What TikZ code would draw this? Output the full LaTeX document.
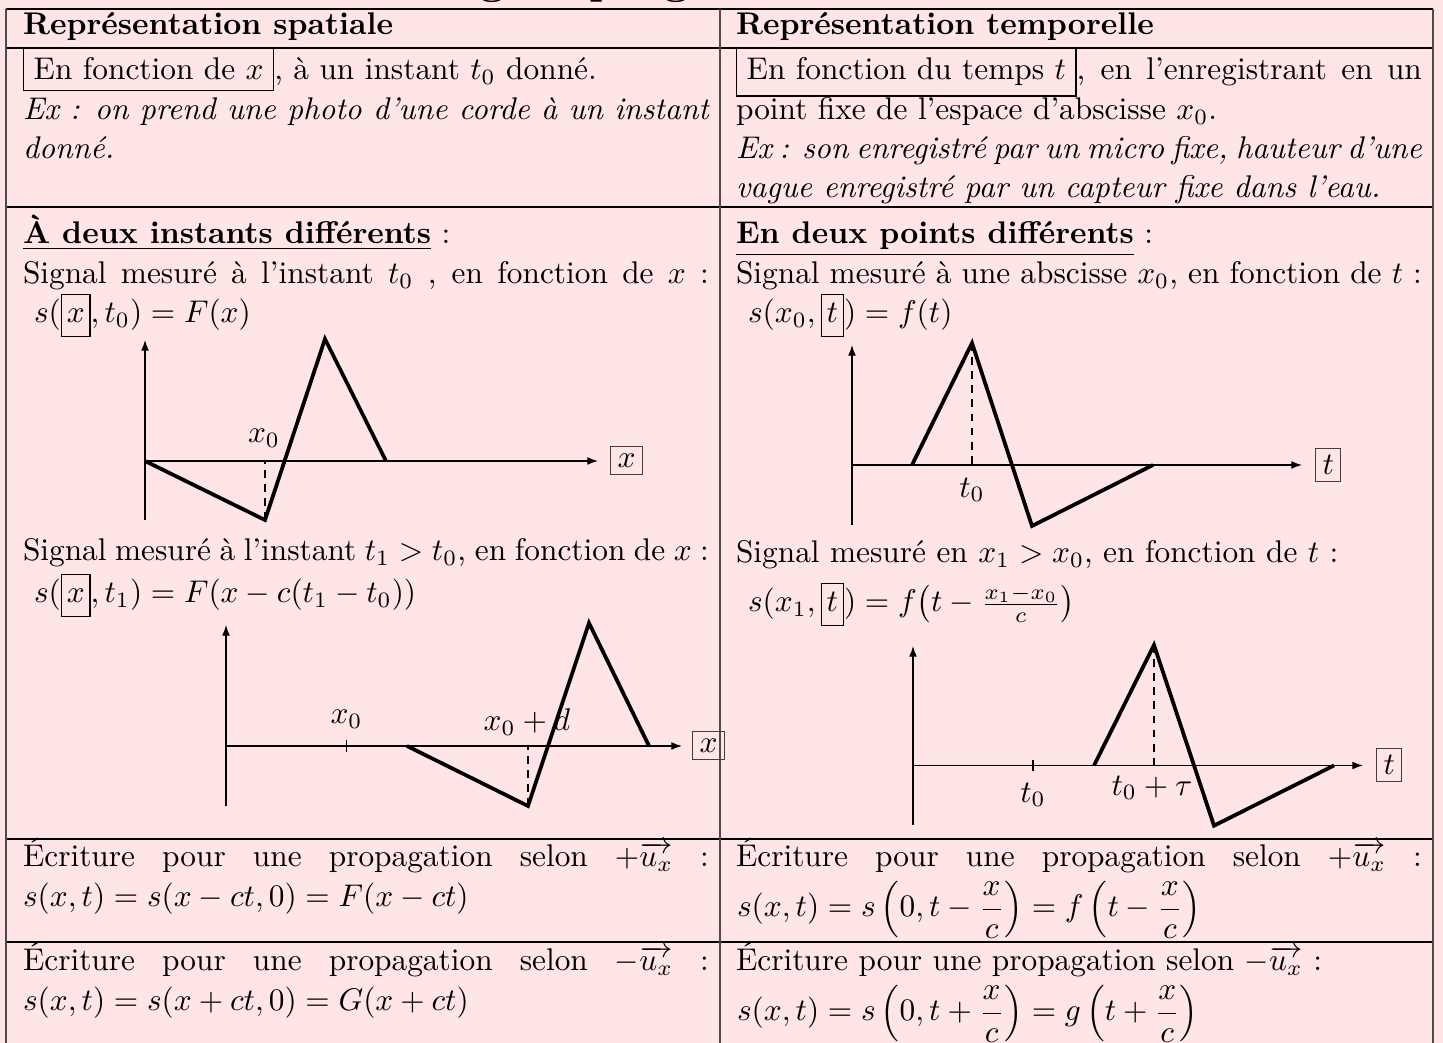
\documentclass[tikz,border=0pt]{standalone}
\usepackage{fontspec}
\usepackage{amsmath}
\usetikzlibrary{arrows.meta}
\definecolor{bgpink}{RGB}{255,229,230}
\newcommand{\bxm}[1]{{\fboxsep=1.5pt\fbox{$\vphantom{(}#1$}}}
\newlength{\colw}\setlength{\colw}{218.8pt}
\begin{document}
\begin{tikzpicture}[x=0.319pt,y=-0.319pt,
  tl/.style={anchor=base west,inner sep=0pt,outer sep=0pt,font=\fontsize{10}{12}\selectfont},
  rulehz/.style={line width=0.5pt,draw=black},
  rulevt/.style={line width=0.4pt,draw=black!70},
  axis/.style={line width=0.4pt,-{Latex[length=3.4pt,width=2.5pt]}},
  sig/.style={line width=1.2pt,line join=miter,line cap=butt},
  guide/.style={line width=0.4pt,dash pattern=on 2.5pt off 2pt},
  axlab/.style={draw=black!75,line width=0.4pt,inner sep=2.2pt,font=\fontsize{10}{12}\selectfont},
  tickmark/.style={line width=0.4pt},
  plab/.style={inner sep=0pt,font=\fontsize{10}{12}\selectfont}]
\useasboundingbox (0,0) rectangle (1443,1043);
\fill[bgpink] (0,0) rectangle (1443,1043);
% title (cut off by the page edge)
\node[anchor=base,inner sep=0pt,font=\Large\bfseries] (title) at (620,-6) {Signal progressif};
% table rules
\draw[rulehz] (6,9) -- (1433,9);
\draw[rulehz] (6,48) -- (1433,48);
\draw[rulehz] (6,207) -- (1433,207);
\draw[rulehz] (6,839) -- (1433,839);
\draw[rulehz] (6,942) -- (1433,942);
\draw[rulevt] (6,9) -- (6,1043);
\draw[rulevt] (720,9) -- (720,1043);
\draw[rulevt] (1433,9) -- (1433,1043);
% header
\node[tl] (h1) at (23,35) {\bfseries Représentation spatiale};
\node[tl] (h2) at (736,35) {\bfseries Représentation temporelle};
% row 1
\node[tl] (a1) at (23,80) {\fbox{En fonction de $x$}, à un instant $t_0$ donné.};
\node[tl] (a2) at (23,120) {\makebox[\colw][s]{\itshape Ex : on prend une photo d'une corde à un instant}};
\node[tl] (a3) at (23,159) {\itshape donné.};
\node[tl] (b1) at (736,80) {\makebox[\colw][s]{\fbox{En fonction du temps $t$}, en l'enregistrant en un}};
\node[tl] (b2) at (736,120) {point fixe de l'espace d'abscisse $x_0$.};
\node[tl] (b3) at (736,159) {\makebox[\colw][s]{\itshape Ex : son enregistré par un micro fixe, hauteur d'une}};
\node[tl] (b4) at (736,198) {\itshape vague enregistré par un capteur fixe dans l'eau.};
% row 2 left
\node[tl] (c1) at (23,244) {\underline{\bfseries À deux instants différents} :};
\node[tl] (c2) at (23,284) {\makebox[\colw][s]{Signal mesuré à l'instant $t_0$ , en fonction de $x$ :}};
\node[tl] (c3) at (34,323) {$s(\bxm{x},t_0)=F(x)$};
\node[tl] (c4) at (23,561) {\makebox[\colw][s]{Signal mesuré à l'instant $t_1>t_0$, en fonction de $x$ :}};
\node[tl] (c5) at (34,603) {$s(\bxm{x},t_1)=F(x-c(t_1-t_0))$};
% row 2 right
\node[tl] (d1) at (736,244) {\underline{\bfseries En deux points différents} :};
\node[tl] (d2) at (736,284) {\makebox[\colw][s]{Signal mesuré à une abscisse $x_0$, en fonction de $t$ :}};
\node[tl] (d3) at (748,323) {$s(x_0,\bxm{t})=f(t)$};
\node[tl] (d4) at (736,563) {Signal mesuré en $x_1>x_0$, en fonction de $t$ :};
\node[tl] (d5) at (748,612) {$s(x_1,\bxm{t})=f\bigl(t-\frac{x_1-x_0}{c}\bigr)$};
% row 3
\node[tl] (e1) at (23,867) {\makebox[\colw][s]{Écriture pour une propagation selon $+\overrightarrow{u_x}$ :}};
\node[tl] (e2) at (23,907) {$s(x,t)=s(x-ct,0)=F(x-ct)$};
\node[tl] (f1) at (736,867) {\makebox[\colw][s]{Écriture pour une propagation selon $+\overrightarrow{u_x}$ :}};
\node[tl] (f2) at (737,917) {$s(x,t)=s\left(0,t-\dfrac{x}{c}\right)=f\left(t-\dfrac{x}{c}\right)$};
% row 4
\node[tl] (g1) at (23,971) {\makebox[\colw][s]{Écriture pour une propagation selon $-\overrightarrow{u_x}$ :}};
\node[tl] (g2) at (23,1011) {$s(x,t)=s(x+ct,0)=G(x+ct)$};
\node[tl] (k1) at (736,971) {Écriture pour une propagation selon $-\overrightarrow{u_x}$ :};
\node[tl] (k2) at (737,1021) {$s(x,t)=s\left(0,t+\dfrac{x}{c}\right)=g\left(t+\dfrac{x}{c}\right)$};

% ---------- plot 1 ----------
\coordinate (o1) at (145,461);
\coordinate (y1a) at (145,520);
\coordinate (y1b) at (145,340);
\coordinate (x1b) at (598,461);
\coordinate (m1) at (265,520);
\coordinate (p1) at (325,339);
\coordinate (e1p) at (386,461);
\coordinate (q1) at (265,461);
\draw[axis] (y1a) -- (y1b);
\draw[axis] (o1) -- (x1b);
\node[axlab] (bx1) at (626.5,460.5) {$x$};
\node[plab] (lab1) at (264,438) {$x_0$};
\draw[guide] (m1) -- (q1);
\draw[sig] (o1) -- (m1) -- (p1) -- (e1p);

% ---------- plot 2 ----------
\coordinate (o2) at (226,746);
\coordinate (y2a) at (226,806);
\coordinate (y2b) at (226,625);
\coordinate (x2b) at (682,746);
\coordinate (s2) at (407,746);
\coordinate (m2) at (528,806);
\coordinate (p2) at (589,623);
\coordinate (e2p) at (649,746);
\coordinate (q2) at (528,746);
\coordinate (t2a) at (346.5,740);
\coordinate (t2b) at (346.5,752);
\draw[axis] (y2a) -- (y2b);
\draw[axis] (o2) -- (x2b);
\draw[tickmark] (t2a) -- (t2b);
\node[axlab] (bx2) at (708.5,745.5) {$x$};
\node[plab] (lab2a) at (346.5,719) {$x_0$};
\node[plab] (lab2b) at (527,722) {$x_0+d$};
\draw[guide] (m2) -- (q2);
\draw[sig] (s2) -- (m2) -- (p2) -- (e2p);

% ---------- plot 3 ----------
\coordinate (o3) at (852,465);
\coordinate (y3a) at (852,525);
\coordinate (y3b) at (852,345);
\coordinate (x3b) at (1302,465);
\coordinate (s3) at (912,465);
\coordinate (p3) at (972,343);
\coordinate (m3) at (1032,526);
\coordinate (e3p) at (1153,465);
\coordinate (q3) at (972,465);
\draw[axis] (y3a) -- (y3b);
\draw[axis] (o3) -- (x3b);
\node[axlab] (bx3) at (1328.3,464.9) {$t$};
\node[plab] (lab3) at (972,490) {$t_0$};
\draw[guide] (p3) -- (q3);
\draw[sig] (s3) -- (p3) -- (m3) -- (e3p);

% ---------- plot 4 ----------
\coordinate (o4) at (913,765.5);
\coordinate (y4a) at (913,825);
\coordinate (y4b) at (913,646);
\coordinate (x4b) at (1363,765.5);
\coordinate (s4) at (1094,765.5);
\coordinate (p4) at (1154,645);
\coordinate (m4) at (1214,825.7);
\coordinate (e4p) at (1334,765.5);
\coordinate (q4) at (1154,765.5);
\coordinate (t4a) at (1033,760);
\coordinate (t4b) at (1033,771);
\draw[axis] (y4a) -- (y4b);
\draw[axis] (o4) -- (x4b);
\draw[tickmark] (t4a) -- (t4b);
\node[axlab] (bx4) at (1389.3,764.9) {$t$};
\node[plab] (lab4a) at (1033,795) {$t_0$};
\node[plab] (lab4b) at (1152,788) {$t_0+\tau$};
\draw[guide] (p4) -- (q4);
\draw[sig] (s4) -- (p4) -- (m4) -- (e4p);
\end{tikzpicture}
\end{document}
